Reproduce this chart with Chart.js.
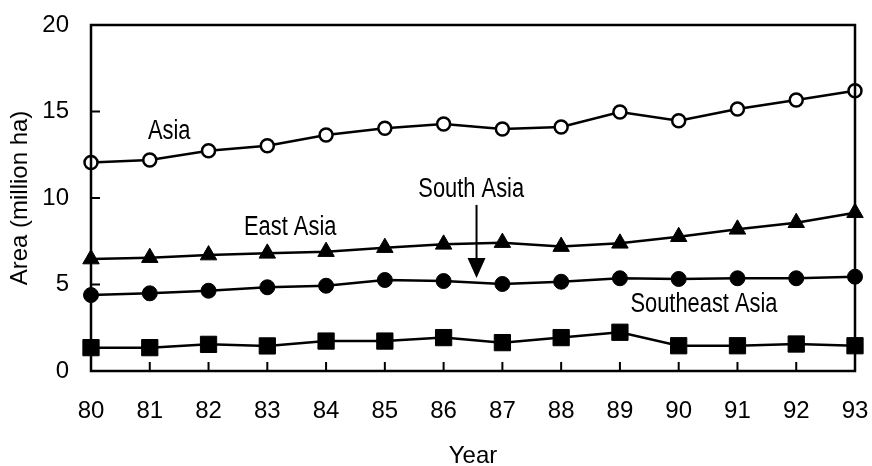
<!DOCTYPE html>
<html><head><meta charset="utf-8">
<script src="https://cdn.jsdelivr.net/npm/chart.js@4/dist/chart.umd.min.js"></script>
<style>html,body{margin:0;padding:0;background:#fff}#wrap{width:872px;height:466px}</style>
</head><body><div id="wrap"><canvas id="c"></canvas></div>
<script>
const years = ['80','81','82','83','84','85','86','87','88','89','90','91','92','93'];
const asia = [12.05,12.2,12.73,13.02,13.64,14.03,14.28,13.99,14.1,14.97,14.47,15.14,15.66,16.2];
const eastAsia = [6.47,6.55,6.7,6.8,6.9,7.13,7.32,7.42,7.19,7.38,7.76,8.19,8.57,9.15];
const southAsia = [4.39,4.49,4.64,4.84,4.93,5.26,5.2,5.03,5.16,5.36,5.32,5.36,5.36,5.45];
const southeastAsia = [1.35,1.35,1.54,1.45,1.73,1.73,1.93,1.64,1.93,2.24,1.46,1.46,1.56,1.46];
const yTicks = [0,5,10,15,20];
// annotation text placed in data coordinates (x = year index, y = value)
const notes = [
  {text:'Asia', x:1.33, y:13.82},
  {text:'East Asia', x:3.39, y:8.29},
  {text:'South Asia', x:6.47, y:10.46},
  {text:'Southeast Asia', x:10.43, y:3.82}
];
const arrow = {x:6.56, yFrom:9.6, yTo:5.38};

const FONT = '"Liberation Sans",Arial,sans-serif';

const framePlugin = {
  id:'frame',
  afterDatasetsDraw(chart){
    const {ctx, chartArea:a, scales:{x,y}} = chart;
    ctx.save();
    ctx.strokeStyle='#000'; ctx.lineWidth=2.5;
    ctx.strokeRect(a.left, a.top, a.right-a.left, a.bottom-a.top);
    ctx.lineWidth=2;
    ctx.beginPath();
    for(let i=1;i<years.length-1;i++){
      const px=x.getPixelForValue(i);
      ctx.moveTo(px,a.bottom); ctx.lineTo(px,a.bottom-9);
    }
    yTicks.forEach(v=>{ if(v>0 && v<20){const py=y.getPixelForValue(v); ctx.moveTo(a.left,py); ctx.lineTo(a.left+9,py);} });
    ctx.stroke();
    ctx.fillStyle='#000';
    ctx.font='27px '+FONT;
    ctx.textAlign='center'; ctx.textBaseline='middle';
    notes.forEach(n=>{
      ctx.save();
      ctx.translate(x.getPixelForValue(n.x), y.getPixelForValue(n.y));
      ctx.scale(0.81,1);
      ctx.fillText(n.text, 0, 0);
      ctx.restore();
    });
    const ax=x.getPixelForValue(arrow.x), y0=y.getPixelForValue(arrow.yFrom), y1=y.getPixelForValue(arrow.yTo);
    ctx.lineWidth=2;
    ctx.beginPath(); ctx.moveTo(ax,y0); ctx.lineTo(ax,y1-18); ctx.stroke();
    ctx.beginPath(); ctx.moveTo(ax-9,y1-20); ctx.lineTo(ax+9,y1-20); ctx.lineTo(ax,y1); ctx.closePath(); ctx.fill();
    ctx.restore();
  }
};

const base = {borderColor:'#000', borderWidth:2.5, pointBorderColor:'#000', tension:0, clip:false};
new Chart(document.getElementById('c'), {
  type:'line',
  data:{labels:years, datasets:[
    {...base, label:'Asia', data:asia, pointStyle:'circle', pointRadius:6.5, pointBorderWidth:2.5, pointBackgroundColor:'#fff'},
    {...base, label:'East Asia', data:eastAsia, pointStyle:'triangle', pointRadius:9.5, pointBorderWidth:1, pointBackgroundColor:'#000'},
    {...base, label:'South Asia', data:southAsia, pointStyle:'circle', pointRadius:7.5, pointBorderWidth:1, pointBackgroundColor:'#000'},
    {...base, label:'Southeast Asia', data:southeastAsia, pointStyle:'rect', pointRadius:11.5, pointBorderWidth:1, pointBackgroundColor:'#000'}
  ]},
  options:{
    responsive:true, maintainAspectRatio:false, animation:false,
    layout:{padding:{top:25,right:17,left:0,bottom:0}},
    plugins:{legend:{display:false}, tooltip:{enabled:false}},
    scales:{
      x:{type:'category', offset:false,
        grid:{display:false, drawTicks:false}, border:{display:false},
        ticks:{color:'#000', font:{family:FONT,size:24}, padding:26, maxRotation:0, autoSkip:false},
        title:{display:true, text:'Year', color:'#000', font:{family:FONT,size:24,lineHeight:1}, padding:{top:22,bottom:-2}},
        afterFit(s){s.height=95; s.paddingLeft=0; s.paddingRight=0;}
      },
      y:{min:0,max:20,
        afterBuildTicks(s){s.ticks=yTicks.map(v=>({value:v}));},
        grid:{display:false, drawTicks:false}, border:{display:false},
        ticks:{color:'#000', font:{family:FONT,size:24}, padding:22},
        title:{display:true, text:'Area (million ha)', color:'#000', font:{family:FONT,size:24}, padding:{top:6,bottom:4}},
        afterFit(s){s.width=91; s.paddingTop=0; s.paddingBottom=0;}
      }
    }
  },
  plugins:[framePlugin]
});
</script></body></html>
